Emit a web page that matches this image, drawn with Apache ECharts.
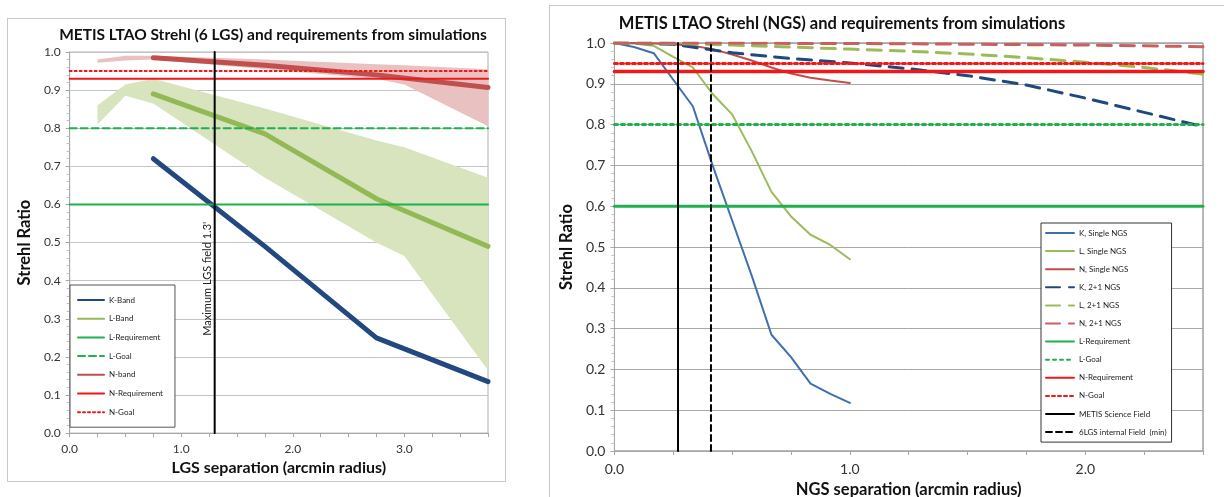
<!DOCTYPE html>
<html>
<head>
<meta charset="utf-8">
<script src="https://cdn.jsdelivr.net/npm/echarts@6/dist/echarts.min.js"></script>
<style>
  body { margin: 0; width: 1224px; height: 497px; background: #fff; overflow: hidden; position: relative; }
  .panel { position: absolute; border: 1px solid #c9c9c9; box-sizing: border-box; background: #fff; }
  #p1 { left: 7px; top: 18px; width: 499px; height: 464px; }
  #p2 { left: 549px; top: 5px; width: 690px; height: 500px; }
  .chart { width: 100%; height: 100%; }
</style>
</head>
<body>
<div class="panel" id="p1"><div class="chart" id="main1"></div></div>
<div class="panel" id="p2"><div class="chart" id="main2"></div></div>
<script>
// ---- left chart: LGS separation ----
const lgsXMax = 3.75;
const lgsX = [0.75, 1.75, 2.75, 3.75];
const kBand = [0.72, 0.49, 0.25, 0.135];
const lBand = [0.89, 0.785, 0.615, 0.49];
const nBand = [0.985, 0.965, 0.94, 0.907];
// shaded ranges
const rangeX = [0.25, 0.5, 0.75, 1.75, 2.75, 3.0, 3.75];
const lRangeHigh = [0.86, 0.915, 0.93, 0.852, 0.768, 0.75, 0.67];
const lRangeLow = [0.81, 0.885, 0.865, 0.67, 0.5, 0.465, 0.165];
const nRangeHigh = [0.98, 0.99, 0.99, 0.98, 0.968, 0.965, 0.955];
const nRangeLow = [0.972, 0.978, 0.98, 0.955, 0.93, 0.915, 0.805];
const lgsField = 1.3;

// ---- right chart: NGS separation ----
const ngsXMax = 2.5;
const ngsX = [0, 0.083, 0.167, 0.25, 0.333, 0.417, 0.5, 0.583, 0.667, 0.75, 0.833, 0.917, 1.0];
const kSingle = [1.0, 0.99, 0.975, 0.91, 0.845, 0.70, 0.565, 0.43, 0.285, 0.23, 0.165, 0.14, 0.118];
const lSingle = [1.0, 0.999, 0.993, 0.966, 0.94, 0.875, 0.825, 0.735, 0.635, 0.575, 0.53, 0.505, 0.47];
const nSingle = [1.0, 1.0, 0.999, 0.997, 0.993, 0.985, 0.972, 0.957, 0.94, 0.925, 0.915, 0.908, 0.902];
const ngs2X = [0, 0.25, 0.5, 0.75, 1.0, 1.25, 1.5, 1.75, 2.0, 2.25, 2.5];
const k21 = [1.0, 0.997, 0.976, 0.962, 0.951, 0.937, 0.92, 0.897, 0.865, 0.83, 0.795];
const l21 = [1.0, 0.999, 0.995, 0.99, 0.985, 0.98, 0.973, 0.964, 0.953, 0.94, 0.924];
const n21 = [1.0, 1.0, 1.0, 0.999, 0.999, 0.998, 0.997, 0.996, 0.995, 0.993, 0.991];
const scienceField = 0.27;
const lgsInternalField = 0.41;

// requirements
const lReq = 0.6, lGoal = 0.8, nReq = 0.93, nGoal = 0.95;

const FONT = 'Lato, "Open Sans", sans-serif';

function zip(xs, ys) {
  return xs.map((x, i) => [x, ys[i]]);
}

function lineS(name, xs, ys, color, width, type) {
  return {
    name: name,
    type: 'line',
    data: zip(xs, ys),
    symbol: 'none',
    silent: true,
    lineStyle: { color: color, width: width, type: type || 'solid', cap: 'round' },
    itemStyle: { color: color, opacity: 0 }
  };
}

function hLine(name, y, xMax, color, width, type) {
  return lineS(name, [0, xMax], [y, y], color, width, type);
}

function vLine(name, x, color, width, type) {
  return lineS(name, [x, x], [0, 1], color, width, type);
}

// shaded band between low and high
function bandS(xs, lo, hi, color) {
  return {
    type: 'custom',
    silent: true,
    data: [[0, 0]],
    renderItem: function (params, api) {
      const pts = [];
      for (let i = 0; i < xs.length; i++) pts.push(api.coord([xs[i], hi[i]]));
      for (let j = xs.length - 1; j >= 0; j--) pts.push(api.coord([xs[j], lo[j]]));
      return { type: 'polygon', shape: { points: pts }, style: { fill: color } };
    }
  };
}

function yAxisOpt(labelSize, nameGap, splitColor, nameSize) {
  return {
    type: 'value', min: 0, max: 1, interval: 0.1,
    name: 'Strehl Ratio', nameLocation: 'middle', nameGap: nameGap,
    nameTextStyle: { fontWeight: 'bold', fontSize: nameSize, color: '#111', fontFamily: FONT },
    axisLabel: { formatter: v => v.toFixed(1), fontSize: labelSize, color: '#333', fontFamily: FONT, margin: 9 },
    axisLine: { show: true, lineStyle: { color: '#a6a6a6' } },
    axisTick: { show: true, length: 4, lineStyle: { color: '#a6a6a6' } },
    minorTick: { show: true, splitNumber: 5, length: 3, lineStyle: { color: '#bfbfbf' } },
    splitLine: { lineStyle: { color: splitColor } }
  };
}

function xAxisOpt(xMax, name, labelSize, nameGap, margin, nameSize) {
  return {
    type: 'value', min: 0, max: xMax, interval: 0.25,
    name: name, nameLocation: 'middle', nameGap: nameGap,
    nameTextStyle: { fontWeight: 'bold', fontSize: nameSize, color: '#111', fontFamily: FONT },
    axisLabel: {
      formatter: v => (Math.abs(v - Math.round(v)) < 1e-6 ? v.toFixed(1) : ''),
      fontSize: labelSize, color: '#333', fontFamily: FONT, margin: margin
    },
    axisLine: { show: true, onZero: false, lineStyle: { color: '#a6a6a6' } },
    axisTick: { show: true, length: 4, lineStyle: { color: '#a6a6a6' } },
    splitLine: { show: false }
  };
}

const legendBase = {
  orient: 'vertical',
  itemHeight: 10,
  borderWidth: 1, backgroundColor: '#fff',
  itemStyle: { opacity: 0 },
  textStyle: { fontSize: 8, color: '#222', fontFamily: FONT, lineHeight: 10 }
};

// ---- left chart ----
const chart1 = echarts.init(document.getElementById('main1'));
const fieldLine = vLine('LGS field', lgsField, '#000', 2);
fieldLine.markLine = {
  silent: true, symbol: 'none',
  lineStyle: { color: 'rgba(0,0,0,0)', width: 0 },
  label: {
    show: true, position: 'insideMiddleTop', distance: 2,
    formatter: "Maximum LGS field 1.3'", color: '#222', fontSize: 11, fontFamily: FONT
  },
  data: [[{ coord: [lgsField, 0.18] }, { coord: [lgsField, 0.63] }]]
};
chart1.setOption({
  animation: false,
  graphic: [{
    type: 'text', x: 265, y: 16,
    style: { text: 'METIS LTAO Strehl (6 LGS) and requirements from simulations',
      font: 'bold 15.5px ' + FONT, fill: '#111', textAlign: 'center', textVerticalAlign: 'middle' }
  }],
  grid: { left: 55, top: 33, width: 425, height: 385, show: true, borderColor: '#b0b0b0', borderWidth: 1 },
  legend: Object.assign({}, legendBase, {
    left: 62, top: 266,
    itemWidth: 26, itemGap: 8.7,
    padding: [10, 12, 10, 7],
    borderColor: '#555',
    data: ['K-Band', 'L-Band', 'L-Requirement', 'L-Goal', 'N-band', 'N-Requirement', 'N-Goal']
  }),
  xAxis: xAxisOpt(lgsXMax, 'LGS separation (arcmin radius)', 12, 22, 10, 16),
  yAxis: yAxisOpt(12, 31, '#c4c4c4', 16.5),
  series: [
    bandS(rangeX, lRangeLow, lRangeHigh, '#d7e4bd'),
    bandS(rangeX, nRangeLow, nRangeHigh, '#e8c1c0'),
    lineS('K-Band', lgsX, kBand, '#23487f', 5),
    lineS('L-Band', lgsX, lBand, '#93b957', 5),
    hLine('L-Requirement', lReq, lgsXMax, '#1fb04f', 2),
    hLine('L-Goal', lGoal, lgsXMax, '#1fb04f', 2, [7, 4]),
    lineS('N-band', lgsX, nBand, '#c0504d', 5),
    hLine('N-Requirement', nReq, lgsXMax, '#f01818', 2),
    hLine('N-Goal', nGoal, lgsXMax, '#f01818', 2, [2, 3]),
    fieldLine
  ]
});

// ---- right chart ----
const chart2 = echarts.init(document.getElementById('main2'));
chart2.setOption({
  animation: false,
  graphic: [{
    type: 'text', x: 292, y: 18,
    style: { text: 'METIS LTAO Strehl (NGS) and requirements from simulations',
      font: 'bold 16.5px ' + FONT, fill: '#111', textAlign: 'center', textVerticalAlign: 'middle' }
  }],
  grid: { left: 60, top: 37, width: 593, height: 408, show: true, borderColor: '#707070', borderWidth: 1 },
  legend: Object.assign({}, legendBase, {
    left: 491, top: 217,
    itemWidth: 28, itemGap: 8.1,
    padding: [5, 5, 5, 4],
    borderColor: '#333',
    data: ['K, Single NGS', 'L, Single NGS', 'N, Single NGS', 'K, 2+1 NGS', 'L, 2+1 NGS', 'N, 2+1 NGS',
      'L-Requirement', 'L-Goal', 'N-Requirement', 'N-Goal', 'METIS Science Field', '6LGS internal Field  (min)']
  }),
  xAxis: xAxisOpt(ngsXMax, 'NGS separation (arcmin radius)', 14, 26, 11, 16.5),
  yAxis: yAxisOpt(14, 36, '#a8a8a8', 16.5),
  series: [
    lineS('K, Single NGS', ngsX, kSingle, '#3f6fae', 2),
    lineS('L, Single NGS', ngsX, lSingle, '#9bbb59', 2),
    lineS('N, Single NGS', ngsX, nSingle, '#c0504d', 2),
    lineS('K, 2+1 NGS', ngs2X, k21, '#1f497d', 3, [14, 9]),
    lineS('L, 2+1 NGS', ngs2X, l21, '#9bbb59', 3, [14, 9]),
    lineS('N, 2+1 NGS', ngs2X, n21, '#c9605d', 3, [14, 9]),
    hLine('L-Requirement', lReq, ngsXMax, '#1fb04f', 3),
    hLine('L-Goal', lGoal, ngsXMax, '#1fb04f', 3, [3, 4]),
    hLine('N-Requirement', nReq, ngsXMax, '#f01818', 3.5),
    hLine('N-Goal', nGoal, ngsXMax, '#f01818', 3, [3, 3]),
    vLine('METIS Science Field', scienceField, '#000', 2),
    vLine('6LGS internal Field  (min)', lgsInternalField, '#000', 2, [6, 4])
  ]
});
</script>
</body>
</html>
